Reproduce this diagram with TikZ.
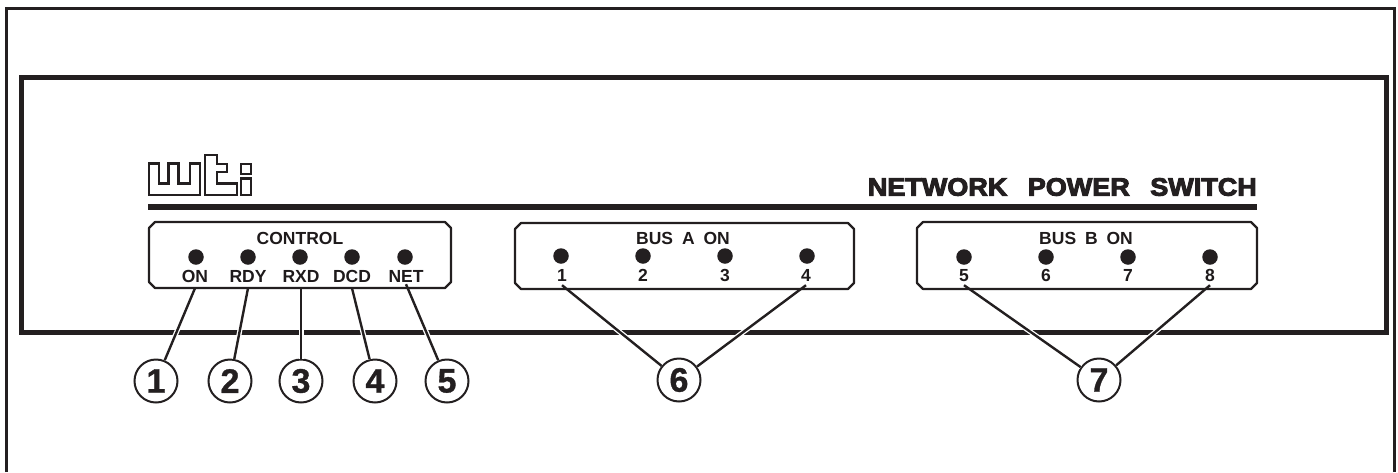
\documentclass[tikz,border=0pt]{standalone}
\usepackage{fontspec}
\setmainfont{Liberation Sans}
\newfontfamily\widefont[FakeStretch=1.08,FakeBold=4]{Liberation Sans Bold}
\newfontfamily\heavyfont[FakeBold=1]{Liberation Sans Bold}
\usetikzlibrary{shapes.misc}
\definecolor{ink}{HTML}{231F20}
\tikzset{
  px/.style={x=1pt,y=-1pt},
  frameline/.style={draw=ink,line width=3pt},
  panelline/.style={draw=ink,line width=5pt,line cap=butt,line join=miter},
  rulebar/.style={draw=ink,line width=6pt},
  ledbox/.style={draw=ink,line width=2.2pt,line join=round},
  logoline/.style={draw=ink,line width=2.4pt,line join=miter},
  led/.style={circle,fill=ink,draw=none,minimum size=15.5pt,inner sep=0pt},
  sig/.style={font=\fontsize{17.5}{18}\selectfont\bfseries\color{ink!85!black},inner sep=0pt,text height=12.5pt,text depth=0pt,minimum height=24pt,minimum width=10pt,anchor=center},
  sigshort/.style={sig,minimum height=16pt},
  head/.style={font=\fontsize{17.5}{18}\selectfont\bfseries\color{ink!85!black},inner sep=0pt,anchor=center},
  dig/.style={font=\fontsize{17.5}{18}\selectfont\bfseries\color{ink!85!black},inner sep=0pt,text height=12.5pt,text depth=0pt,minimum height=20pt,minimum width=4pt,anchor=center},
  callout/.style={circle,draw=ink,line width=2pt,fill=white,minimum size=43pt,inner sep=0pt,font=\fontsize{34}{35}\selectfont\heavyfont\color{ink}},
  leader/.style={draw=ink,line width=2.4pt,preaction={draw=white,line width=5pt}},
}
\newcommand{\chambox}[4]{%
  \draw[ledbox] (#1+6,#2) -- (#3-6,#2) -- (#3,#2+6) -- (#3,#4-6) -- (#3-6,#4) -- (#1+6,#4) -- (#1,#4-6) -- (#1,#2+6) -- cycle;}
\begin{document}
\begin{tikzpicture}[px]
\useasboundingbox (0,0) rectangle (1398,472);
% outer frame (open at the bottom)
\draw[frameline] (6.5,472) -- (6.5,8.5) -- (1394.5,8.5) -- (1394.5,472);
% front panel
\draw[panelline] (21.5,77.5) rectangle (1386,332);
\draw[rulebar] (148,207) -- (1257,207);
% logo
\draw[logoline] (149,163.5) -- (159,163.5) -- (159,183.5) -- (168.5,183.5) -- (168.5,163.5) -- (178.5,163.5) -- (178.5,183.5) -- (190,183.5) -- (190,163.5) -- (200,163.5) -- (200,195) -- (149,195) -- cycle;
\draw[logoline] (205,155) -- (216.7,155) -- (216.7,164) -- (226.7,164) -- (226.7,171.7) -- (216.7,171.7) -- (216.7,183.5) -- (236.7,183.5) -- (236.7,195) -- (205,195) -- cycle;
\draw[logoline] (241,164) rectangle (251,174);
\draw[logoline] (241,178.5) rectangle (251,195);
% title
\node (title) [anchor=east,inner sep=0pt,text=ink,font=\fontsize{25}{27}\selectfont\widefont] at (1257,187) {NETWORK\hspace{13pt} POWER\hspace{13pt} SWITCH};
% headings
\node[head] (hc) at (300,238) {CONTROL};
\node[head] (ha) at (683,238) {BUS\hspace{4pt} A\hspace{4pt} ON};
\node[head] (hb) at (1086,238) {BUS\hspace{4pt} B\hspace{4pt} ON};
% LEDs
\foreach \n/\x in {a/196,b/248,c/300,d/352,e/405}{\node[led] (led\n) at (\x,257) {};}
\foreach \n/\x in {1/561,2/643,3/725,4/807}{\node[led] (ledA\n) at (\x,256) {};}
\foreach \n/\x in {5/964,6/1046,7/1128,8/1210}{\node[led] (ledB\n) at (\x,257) {};}
% labels
\node[sig] (lon) at (195,276) {ON};
\node[sig] (lrdy) at (248,276) {RDY};
\node[sig] (lrxd) at (301,276) {RXD};
\node[sig] (ldcd) at (352,276) {DCD};
\node[sigshort] (lnet) at (406,276) {NET};
\foreach \n/\x in {1/562,2/643,3/725,4/806,5/964,6/1046,7/1128,8/1210}{\node[dig] (d\n) at (\x,275) {\n};}
% callouts (positions), leaders, then boxes and circles
\node[callout] (c1) at (156,381) {1};
\node[callout] (c2) at (230,381) {2};
\node[callout] (c3) at (301,381) {3};
\node[callout] (c4) at (375,381) {4};
\node[callout] (c5) at (447,381) {5};
\node[callout] (c6) at (679,380) {6};
\node[callout] (c7) at (1099,380) {7};
\draw[leader] (lon.south) -- (c1);
\draw[leader] (lrdy.south) -- (c2);
\draw[leader] (lrxd.south) -- (c3);
\draw[leader] (ldcd.south) -- (c4);
\draw[leader] (lnet.south) -- (c5);
\draw[leader] (d1.south) -- (c6);
\draw[leader] (d4.south) -- (c6);
\draw[leader] (d5.south) -- (c7);
\draw[leader] (d8.south) -- (c7);
% LED group boxes
\chambox{149}{222}{451}{288}
\chambox{515}{223}{854}{289}
\chambox{917}{222}{1257}{289}
\end{tikzpicture}
\end{document}
